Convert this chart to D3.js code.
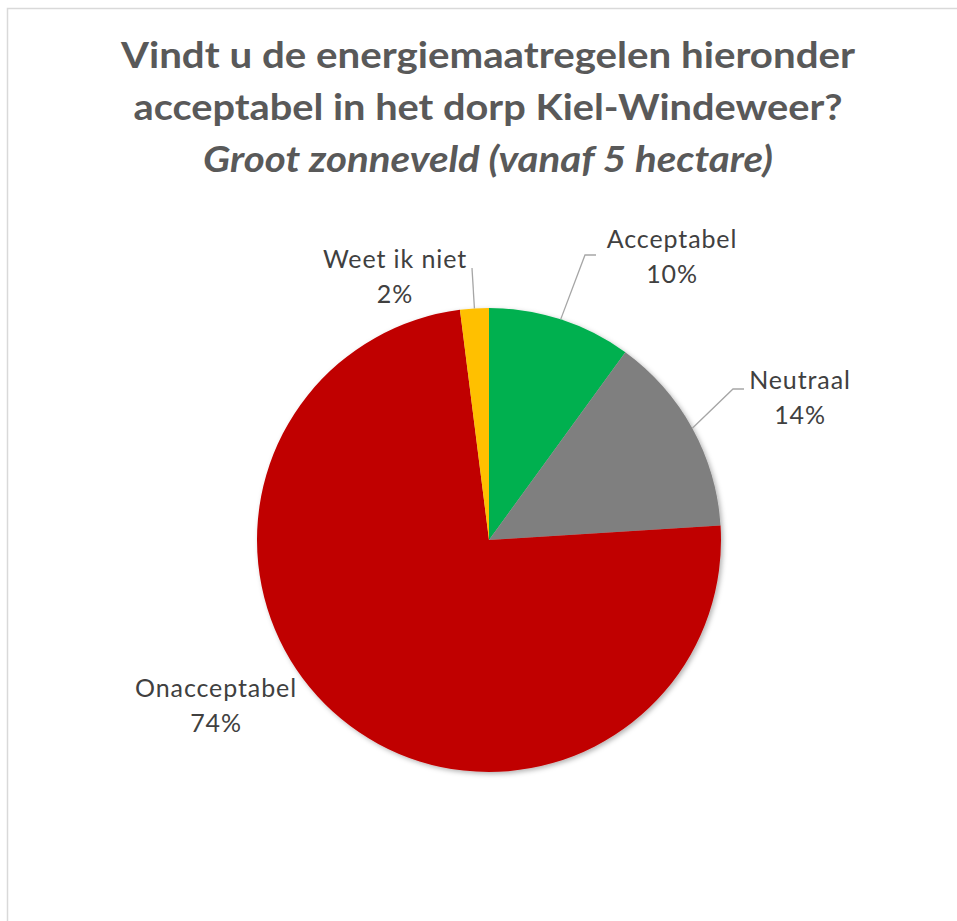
<!DOCTYPE html>
<html>
<head>
<meta charset="utf-8">
<script src="https://cdn.jsdelivr.net/npm/d3@7"></script>
<style>
  html, body { margin: 0; padding: 0; background: #fff; }
  svg { display: block; }
</style>
</head>
<body>
<div id="chart"></div>
<script>
// Data
const categories = ["Acceptabel", "Neutraal", "Onacceptabel", "Weet ik niet"];
const values = [10, 14, 74, 2];
const colors = ["#00B050", "#7F7F7F", "#C00000", "#FFC000"];
const titleLines = [
    "Vindt u de energiemaatregelen hieronder",
    "acceptabel in het dorp Kiel-Windeweer?",
    "Groot zonneveld (vanaf 5 hectare)"
];

// Layout (label placement relative to pie centre, like Excel's manual positions)
const labelLayout = {
    "Acceptabel":   { x: 183,  y: -292, leader: [[96, -285], [107, -285]] },
    "Neutraal":     { x: 311,  y: -151, leader: [[244, -151], [255, -151]] },
    "Onacceptabel": { x: -273, y: 157,  leader: null },
    "Weet ik niet": { x: -94,  y: -272, leader: [[-17, -272]] }
};

const width = 957, height = 921;
const cx = 489, cy = 540, radius = 232;

const svg = d3.select("#chart").append("svg")
    .attr("width", width)
    .attr("height", height);

// Chart area border
svg.append("rect")
    .attr("x", 7.5).attr("y", 8.5)
    .attr("width", 1000).attr("height", 1000)
    .attr("fill", "#fff")
    .attr("stroke", "#d9d9d9")
    .attr("stroke-width", 1.5);

const defs = svg.append("defs");
const shadow = defs.append("filter").attr("id", "shadow")
    .attr("x", "-10%").attr("y", "-10%").attr("width", "120%").attr("height", "120%");
shadow.append("feDropShadow")
    .attr("dx", 2).attr("dy", 2)
    .attr("stdDeviation", 2.5)
    .attr("flood-color", "#000")
    .attr("flood-opacity", 0.3);

// Title
const titleWidths = [734, 709, 570];
const title = svg.append("g").attr("font-family", "Lato, 'Open Sans', sans-serif")
    .attr("font-weight", "bold")
    .attr("fill", "#595959")
    .attr("text-anchor", "middle");
titleLines.forEach((line, i) => {
    title.append("text")
        .attr("x", 488)
        .attr("y", 68 + i * 52)
        .attr("font-size", 37)
        .attr("font-style", i === 2 ? "italic" : "normal")
        .attr("textLength", titleWidths[i])
        .attr("lengthAdjust", "spacingAndGlyphs")
        .text(line);
});

// Pie
const total = d3.sum(values);
const data = categories.map((c, i) => ({ name: c, value: values[i], color: colors[i] }));

const pie = d3.pie().sort(null).value(d => d.value);
const arc = d3.arc().innerRadius(0).outerRadius(radius);
const arcs = pie(data);

const g = svg.append("g").attr("transform", `translate(${cx},${cy})`);

g.append("g")
    .attr("filter", "url(#shadow)")
    .selectAll("path")
    .data(arcs)
    .enter()
    .append("path")
    .attr("d", arc)
    .attr("fill", d => d.data.color);

// Leader lines, starting on the rim at the slice's mid angle
g.selectAll(".leader")
    .data(arcs.filter(d => labelLayout[d.data.name].leader))
    .enter()
    .append("polyline")
    .attr("class", "leader")
    .attr("fill", "none")
    .attr("stroke", "#a6a6a6")
    .attr("stroke-width", 1.3)
    .attr("points", d => {
        const mid = (d.startAngle + d.endAngle) / 2;
        const p0 = [Math.sin(mid) * radius, -Math.cos(mid) * radius];
        return [p0].concat(labelLayout[d.data.name].leader).map(p => p.join(",")).join(" ");
    });

// Labels
const fmt = d3.format(".0%");
const labels = g.selectAll(".label")
    .data(arcs)
    .enter()
    .append("text")
    .attr("class", "label")
    .attr("font-family", "Lato, 'Open Sans', sans-serif")
    .attr("font-size", 25)
    .attr("letter-spacing", 0.9)
    .attr("fill", "#404040")
    .attr("text-anchor", "middle");

labels.append("tspan")
    .attr("x", d => labelLayout[d.data.name].x)
    .attr("y", d => labelLayout[d.data.name].y)
    .text(d => d.data.name);
labels.append("tspan")
    .attr("x", d => labelLayout[d.data.name].x)
    .attr("y", d => labelLayout[d.data.name].y + 35)
    .text(d => fmt(d.data.value / total));
</script>
</body>
</html>
